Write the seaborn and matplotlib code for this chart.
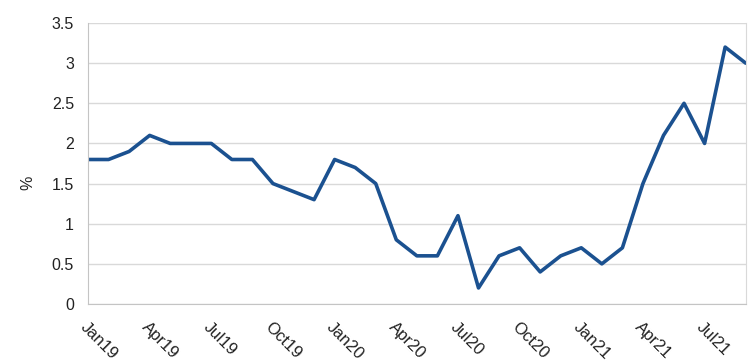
import numpy as np
import pandas as pd
import seaborn as sns
import matplotlib.pyplot as plt

months = ["Jan19", "Feb19", "Mar19", "Apr19", "May19", "Jun19", "Jul19", "Aug19", "Sep19",
          "Oct19", "Nov19", "Dec19", "Jan20", "Feb20", "Mar20", "Apr20", "May20", "Jun20",
          "Jul20", "Aug20", "Sep20", "Oct20", "Nov20", "Dec20", "Jan21", "Feb21", "Mar21",
          "Apr21", "May21", "Jun21", "Jul21", "Aug21", "Sep21"]
values = [1.8, 1.8, 1.9, 2.1, 2.0, 2.0, 2.0, 1.8, 1.8,
          1.5, 1.4, 1.3, 1.8, 1.7, 1.5, 0.8, 0.6, 0.6,
          1.1, 0.2, 0.6, 0.7, 0.4, 0.6, 0.7, 0.5, 0.7,
          1.5, 2.1, 2.5, 2.0, 3.2, 3.0]
y_ticks = [0, 0.5, 1, 1.5, 2, 2.5, 3, 3.5]
y_labels = ["0", "0.5", "1", "1.5", "2", "2.5", "3", "3.5"]

df = pd.DataFrame({"pos": np.arange(len(months)), "value": values})

sns.set_style("white")
plt.rcParams['font.family'] = ['Liberation Sans', 'DejaVu Sans']

fig = plt.figure(figsize=(7.54, 3.63), dpi=100)
ax = fig.add_axes([0.1167, 0.1625, 0.8723, 0.7741])

sns.lineplot(data=df, x="pos", y="value", ax=ax, color="#1b5190", linewidth=2.6)

ax.set_xlim(0, len(months) - 1)
ax.set_ylim(0, 3.5)
ax.set_yticks(y_ticks)
ax.set_yticklabels(y_labels, fontsize=11.5, color="#222222")
ax.set_xticks(df["pos"])
ax.set_xticklabels([m if i % 3 == 0 else "" for i, m in enumerate(months)],
                   rotation=-45, ha="left", va="top", rotation_mode="anchor",
                   fontsize=12, color="#222222")
ax.tick_params(axis="x", length=6, color="#c4c4c4", width=1, pad=5)
ax.tick_params(axis="y", length=7, color="#c4c4c4", width=1, pad=3)
ax.yaxis.grid(True, color="#d9d9d9", linewidth=1)
ax.set_axisbelow(True)
for s in ["left", "bottom"]:
    ax.spines[s].set_color("#c4c4c4")
ax.spines["right"].set_color("#d9d9d9")
ax.spines["top"].set_visible(False)
ax.set_xlabel("")
ax.set_ylabel("%", fontsize=11.5, color="#222222")
ax.yaxis.set_label_coords(-0.08, 0.43)

fig.savefig("out.png", dpi=100)
